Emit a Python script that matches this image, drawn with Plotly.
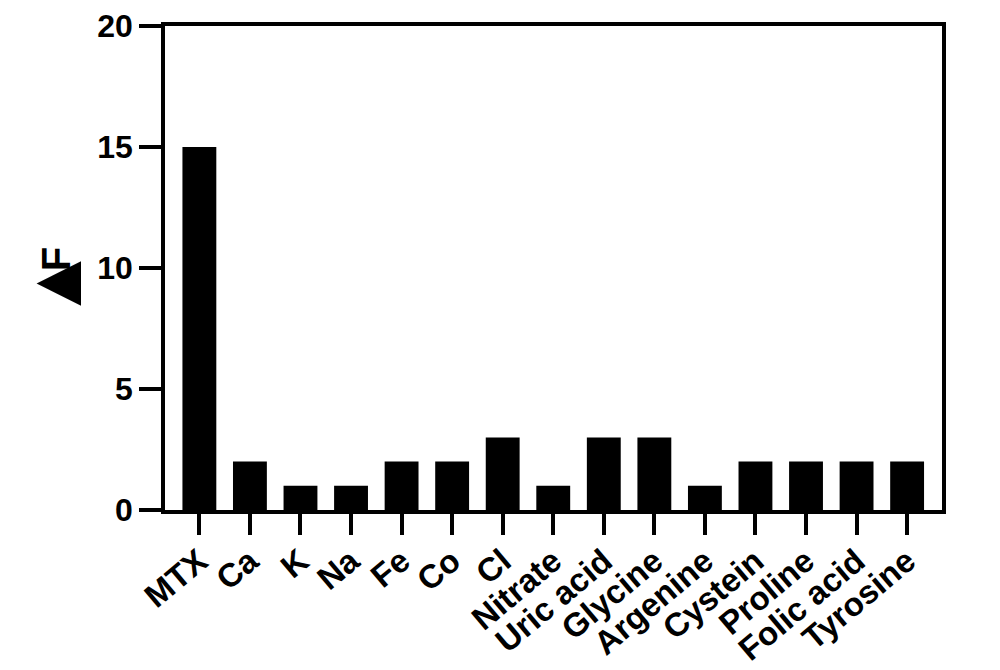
import plotly.graph_objects as go

categories = ["MTX", "Ca", "K", "Na", "Fe", "Co", "Cl", "Nitrate", "Uric acid",
              "Glycine", "Argenine", "Cystein", "Proline", "Folic acid", "Tyrosine"]
delta_f = [15, 2, 1, 1, 2, 2, 3, 1, 3, 3, 1, 2, 2, 2, 2]
y_ticks = [0, 5, 10, 15, 20]

FONT = "Arial, 'Liberation Sans', sans-serif"

fig = go.Figure(go.Bar(
    x=categories, y=delta_f,
    marker=dict(color="black", line=dict(width=0)),
    width=0.67,
))

# page body adds ~8px offset, compensate in margins
fig.update_layout(
    width=1000, height=670,
    margin=dict(l=157, r=66, t=18, b=168, autoexpand=False),
    paper_bgcolor="white", plot_bgcolor="white",
    showlegend=False,
    font=dict(family=FONT, color="black", size=30, weight="bold"),
)
fig.update_xaxes(
    type="category",
    range=[-0.68, 14.69],
    automargin=False,
    showline=True, mirror=True, linewidth=3.5, linecolor="black",
    ticks="outside", ticklen=21, tickwidth=3.5, tickcolor="black",
    tickangle=-40, ticklabelstandoff=-6,
    tickfont=dict(family=FONT, size=33, color="black", weight="bold"),
    showgrid=False, zeroline=False,
)
fig.update_yaxes(
    range=[0, 20],
    automargin=False,
    tickvals=y_ticks, ticktext=[str(v) for v in y_ticks],
    showline=True, mirror=True, linewidth=3.5, linecolor="black",
    ticks="outside", ticklen=22, tickwidth=3.5, tickcolor="black",
    tickfont=dict(family=FONT, size=32, color="black", weight="bold"),
    showgrid=False, zeroline=False,
)
fig.add_annotation(
    xref="paper", yref="paper", x=-0.143, y=0.469,
    xanchor="center", yanchor="middle",
    text="▲", textangle=-90, showarrow=False,
    font=dict(family=FONT, size=76, color="black", weight="bold"),
)
fig.add_annotation(
    xref="paper", yref="paper", x=-0.141, y=0.519,
    xanchor="center", yanchor="middle",
    text="F", textangle=-90, showarrow=False,
    font=dict(family=FONT, size=40, color="black", weight="bold"),
)

fig.write_html("out.html")
